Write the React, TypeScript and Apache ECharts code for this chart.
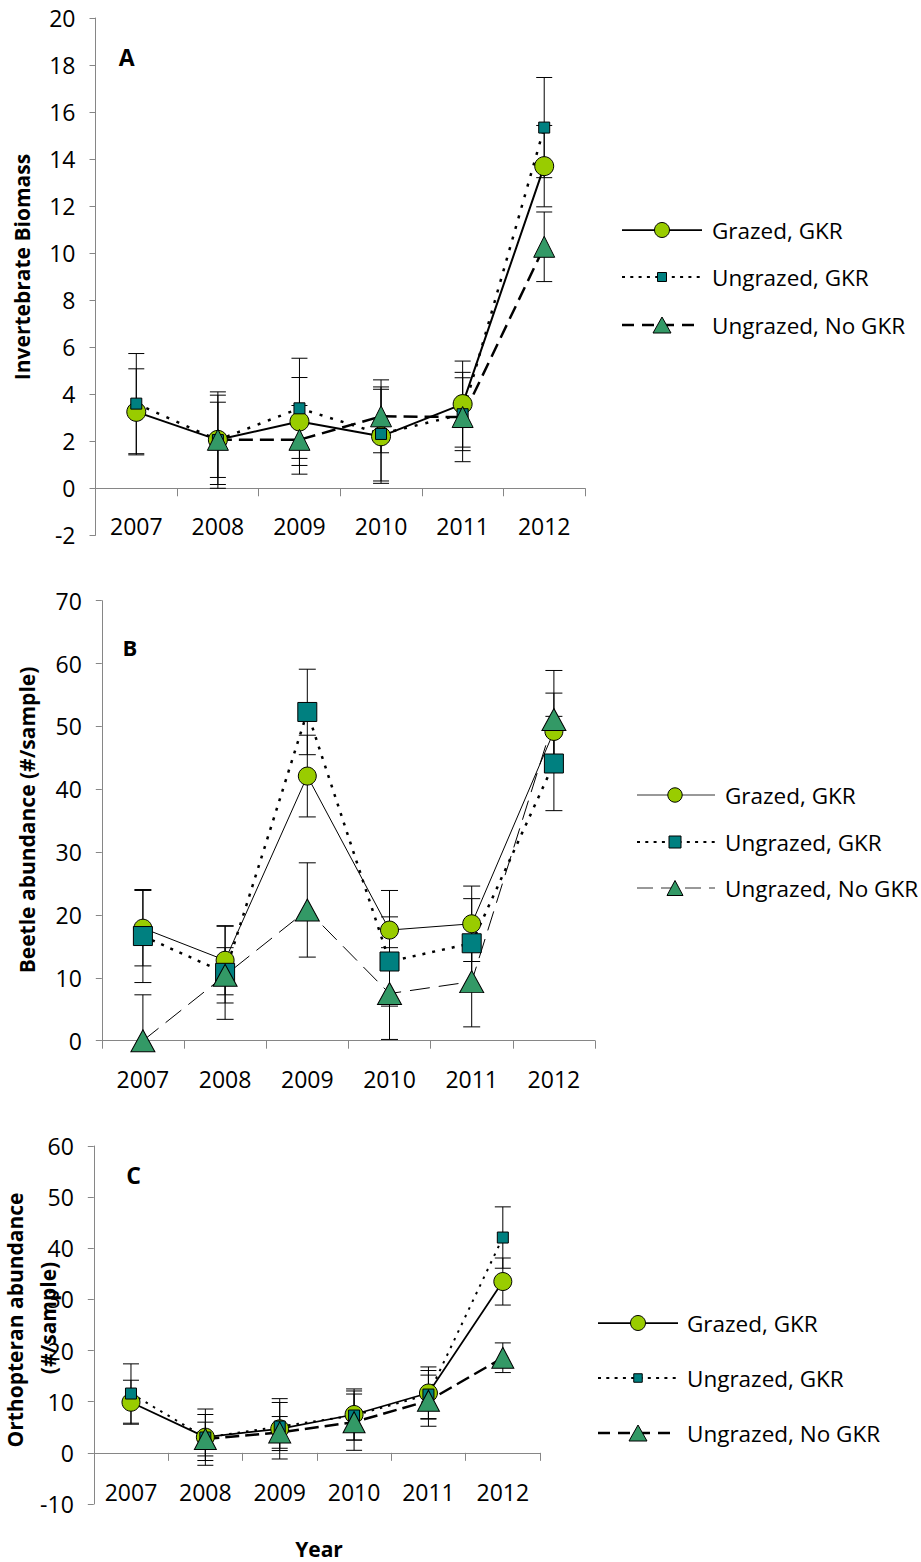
import React, { useEffect, useRef } from "react";
import * as echarts from "echarts";

const years = ["2007", "2008", "2009", "2010", "2011", "2012"];

// Panel A: Invertebrate biomass
const grazedA = [3.25, 2.06, 2.84, 2.21, 3.58, 13.7];
const grazedAErr = [1.83, 1.9, 1.87, 2.0, 1.83, 1.73];
const ungrazedA = [3.6, 2.05, 3.4, 2.31, 3.15, 15.34];
const ungrazedAErr = [2.13, 2.05, 2.13, 2.0, 1.55, 2.13];
const noGkrA = [null, 2.06, 2.06, 3.06, 3.03, 10.27];
const noGkrAErr = [null, 1.6, 1.46, 1.55, 1.9, 1.48];

// Panel B: Beetle abundance
const grazedB = [17.9, 12.8, 42.1, 17.6, 18.6, 49.2];
const grazedBErr = [6.0, 5.5, 6.5, 6.3, 6.0, 6.1];
const ungrazedB = [16.65, 10.8, 52.3, 12.6, 15.5, 44.1];
const ungrazedBErr = [7.4, 7.4, 6.8, 7.1, 7.1, 7.5];
const noGkrB = [0, 10.4, 20.8, 7.5, 9.4, 51.1];
const noGkrBErr = [7.3, 4.4, 7.5, 7.3, 7.2, 7.8];

// Panel C: Orthopteran abundance
const grazedC = [9.9, 3.07, 4.7, 7.5, 11.7, 33.5];
const grazedCErr = [4.3, 5.5, 5.9, 5.0, 5.1, 4.6];
const ungrazedC = [11.6, 3.0, 5.15, 7.3, 11.4, 42.1];
const ungrazedCErr = [5.8, 4.5, 4.7, 4.8, 4.7, 6.0];
const noGkrC = [null, 2.7, 4.0, 6.0, 10.2, 18.6];
const noGkrCErr = [null, 3.3, 3.1, 5.5, 5.0, 2.9];

const seriesNames = ["Grazed, GKR", "Ungrazed, GKR", "Ungrazed, No GKR"];

const FONT = "'Open Sans', 'Noto Sans', sans-serif";
const GREEN = "#99CC00";
const TEAL = "#008080";
const SEA = "#339966";

function errData(vals: (number | null)[], errs: (number | null)[]) {
  const out: number[][] = [];
  vals.forEach((v, i) => {
    if (v != null && errs[i] != null) out.push([i, v, errs[i] as number]);
  });
  return out;
}

function errSeries(gridIdx: number, vals: (number | null)[], errs: (number | null)[], capHalf: number) {
  return {
    type: "custom",
    xAxisIndex: gridIdx,
    yAxisIndex: gridIdx,
    z: 1,
    silent: true,
    encode: { x: 0, y: 1 },
    data: errData(vals, errs),
    renderItem: (params: any, api: any) => {
      const i = api.value(0);
      const v = api.value(1);
      const e = api.value(2);
      const cs = params.coordSys;
      const c = api.coord([i, v]);
      const hi = api.coord([i, v + e]);
      const lo = api.coord([i, v - e]);
      const yMin = cs.y;
      const yMax = cs.y + cs.height;
      const t = Math.max(hi[1], yMin);
      const b = Math.min(lo[1], yMax);
      const st = { stroke: "#000", lineWidth: 1 };
      const children: any[] = [
        { type: "line", shape: { x1: c[0], y1: t, x2: c[0], y2: b }, style: st },
      ];
      if (hi[1] >= yMin - 0.5)
        children.push({ type: "line", shape: { x1: c[0] - capHalf, y1: hi[1], x2: c[0] + capHalf, y2: hi[1] }, style: st });
      if (lo[1] <= yMax + 0.5)
        children.push({ type: "line", shape: { x1: c[0] - capHalf, y1: lo[1], x2: c[0] + capHalf, y2: lo[1] }, style: st });
      return { type: "group", children };
    },
  };
}

function lineSeries(
  gridIdx: number,
  name: string,
  vals: (number | null)[],
  symbol: string,
  size: any,
  fill: string,
  lineWidth: number,
  dash: any
) {
  return {
    type: "line",
    name,
    xAxisIndex: gridIdx,
    yAxisIndex: gridIdx,
    z: 2,
    data: vals,
    symbol,
    symbolSize: size,
    showSymbol: true,
    connectNulls: false,
    lineStyle: { color: "#000", width: lineWidth, type: dash },
    itemStyle: { color: fill, borderColor: "#000", borderWidth: 1 },
    emphasis: { disabled: true },
  };
}

function xAxis(gridIdx: number, labelMargin: number) {
  return {
    type: "category",
    gridIndex: gridIdx,
    data: years,
    boundaryGap: true,
    axisLine: { show: true, onZero: true, lineStyle: { color: "#868686", width: 1 } },
    axisTick: { show: true, length: 8, interval: 0, alignWithLabel: false, lineStyle: { color: "#868686" } },
    axisLabel: { color: "#000", fontSize: 23, fontFamily: FONT, margin: labelMargin, interval: 0 },
    splitLine: { show: false },
  };
}

function yAxis(gridIdx: number, min: number, max: number, interval: number) {
  return {
    type: "value",
    gridIndex: gridIdx,
    min,
    max,
    interval,
    axisLine: { show: true, lineStyle: { color: "#868686", width: 1 } },
    axisTick: { show: true, length: 6, lineStyle: { color: "#868686" } },
    axisLabel: { color: "#000", fontSize: 23, fontFamily: FONT, margin: 20 },
    splitLine: { show: false },
  };
}

function legendGraphics(
  x1: number,
  x2: number,
  sx: number,
  tx: number,
  ys: number[],
  styles: { w: number; dash: any; color: string }[],
  circleR: number,
  sq: number,
  tri: number[]
) {
  const els: any[] = [];
  ys.forEach((y, k) => {
    const s = styles[k];
    els.push({
      type: "line",
      shape: { x1, y1: y, x2, y2: y },
      style: { stroke: s.color, lineWidth: s.w, lineDash: s.dash },
      z: 10,
    });
    if (k === 0) {
      els.push({ type: "circle", shape: { cx: sx, cy: y, r: circleR }, style: { fill: GREEN, stroke: "#000", lineWidth: 1 }, z: 11 });
    } else if (k === 1) {
      els.push({ type: "rect", shape: { x: sx - sq / 2, y: y - sq / 2, width: sq, height: sq }, style: { fill: TEAL, stroke: "#000", lineWidth: 1 }, z: 11 });
    } else {
      const hw = tri[0] / 2;
      const hh = tri[1] / 2;
      els.push({
        type: "polygon",
        shape: { points: [[sx - hw, y + hh], [sx + hw, y + hh], [sx, y - hh]] },
        style: { fill: SEA, stroke: "#000", lineWidth: 1 },
        z: 11,
      });
    }
    els.push({
      type: "text",
      x: tx,
      y,
      style: { text: seriesNames[k], font: `22.5px ${FONT}`, fill: "#000", align: "left", verticalAlign: "middle" },
      z: 11,
    });
  });
  return els;
}

function rotText(x: number, y: number, text: string, size: number) {
  return {
    type: "text",
    x,
    y,
    rotation: Math.PI / 2,
    style: { text, font: `bold ${size}px ${FONT}`, fill: "#000", align: "center", verticalAlign: "middle" },
    z: 10,
  };
}

function plainText(x: number, y: number, text: string, size: number) {
  return {
    type: "text",
    x,
    y,
    style: { text, font: `bold ${size}px ${FONT}`, fill: "#000", align: "center", verticalAlign: "middle" },
    z: 10,
  };
}

export default function App() {
  const ref = useRef<HTMLDivElement>(null);
  useEffect(() => {
    document.body.style.margin = "0";
    if (!ref.current) return;
    const chart = echarts.init(ref.current, undefined, { renderer: "svg" });
    const option: any = {
      animation: false,
      backgroundColor: "#fff",
      textStyle: { fontFamily: FONT },
      grid: [
        { left: 95.5, top: 18, width: 489.5, height: 517.3 },
        { left: 101.8, top: 600.7, width: 493.2, height: 440 },
        { left: 93.8, top: 1146, width: 446.2, height: 358 },
      ],
      xAxis: [xAxis(0, -20.8), xAxis(1, 27), xAxis(2, -23.5)],
      yAxis: [yAxis(0, -2, 20, 2), yAxis(1, 0, 70, 10), yAxis(2, -10, 60, 10)],
      series: [
        errSeries(0, grazedA, grazedAErr, 8),
        errSeries(0, ungrazedA, ungrazedAErr, 8),
        errSeries(0, noGkrA, noGkrAErr, 8),
        lineSeries(0, "A " + seriesNames[0], grazedA, "circle", 19, GREEN, 2, "solid"),
        lineSeries(0, "A " + seriesNames[1], ungrazedA, "rect", 11, TEAL, 2.5, [3, 8]),
        lineSeries(0, "A " + seriesNames[2], noGkrA, "triangle", [21, 21], SEA, 2.5, [14, 7]),

        errSeries(1, grazedB, grazedBErr, 8.5),
        errSeries(1, ungrazedB, ungrazedBErr, 8.5),
        errSeries(1, noGkrB, noGkrBErr, 8.5),
        lineSeries(1, "B " + seriesNames[0], grazedB, "circle", 18, GREEN, 1, "solid"),
        lineSeries(1, "B " + seriesNames[1], ungrazedB, "rect", 19, TEAL, 2.5, [3, 7]),
        lineSeries(1, "B " + seriesNames[2], noGkrB, "triangle", [24, 22], SEA, 1, [20, 9]),

        errSeries(2, grazedC, grazedCErr, 8),
        errSeries(2, ungrazedC, ungrazedCErr, 8),
        errSeries(2, noGkrC, noGkrCErr, 8),
        lineSeries(2, "C " + seriesNames[0], grazedC, "circle", 18, GREEN, 1.75, "solid"),
        lineSeries(2, "C " + seriesNames[1], ungrazedC, "rect", 11, TEAL, 2, [2.5, 6]),
        lineSeries(2, "C " + seriesNames[2], noGkrC, "triangle", [22, 21], SEA, 2.5, [14, 6]),
      ],
      graphic: [
        rotText(22, 267, "Invertebrate Biomass", 21),
        plainText(126.7, 56.5, "A", 23),
        ...legendGraphics(
          622, 702, 662, 712, [230, 277, 325],
          [
            { w: 1.75, dash: null, color: "#000" },
            { w: 2, dash: [3, 5.3], color: "#000" },
            { w: 2.5, dash: [12, 8], color: "#000" },
          ],
          7.5, 9, [18, 16]
        ),

        rotText(27, 820, "Beetle abundance (#/sample)", 21),
        plainText(130, 647, "B", 22),
        ...legendGraphics(
          637, 715, 675, 725, [795, 842, 888],
          [
            { w: 1, dash: null, color: "#333" },
            { w: 2, dash: [3, 5.3], color: "#000" },
            { w: 1, dash: [16, 8], color: "#333" },
          ],
          7.2, 12, [16, 15]
        ),

        rotText(15, 1320, "Orthopteran abundance", 21),
        rotText(48, 1318, "(#/sample)", 21),
        plainText(133.5, 1175, "C", 23),
        plainText(319, 1549, "Year", 21),
        ...legendGraphics(
          598, 678, 638, 687, [1323, 1378, 1433],
          [
            { w: 1.75, dash: null, color: "#000" },
            { w: 2, dash: [3, 5.3], color: "#000" },
            { w: 2.5, dash: [12, 8], color: "#000" },
          ],
          7.5, 8.5, [18, 16]
        ),
      ],
    };
    chart.setOption(option);
    return () => chart.dispose();
  }, []);
  return <div ref={ref} style={{ width: 921, height: 1562 }} />;
}
